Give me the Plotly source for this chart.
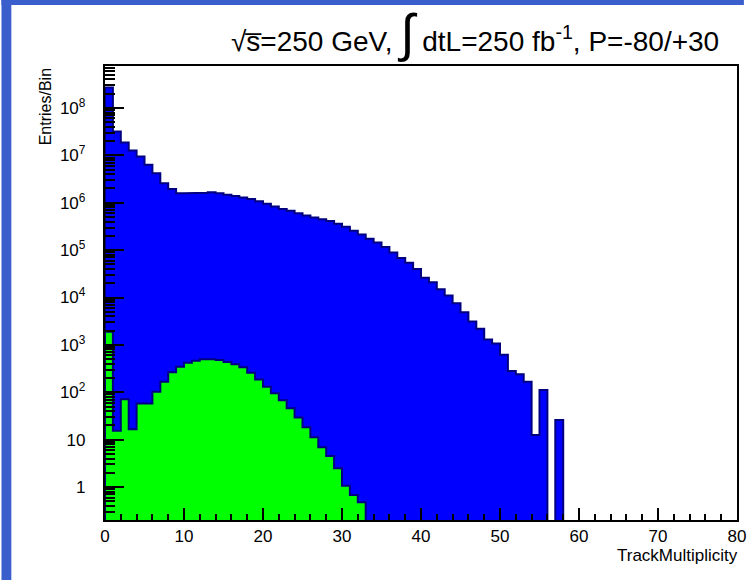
import plotly.graph_objects as go

# ---------------- data ----------------
n_bins = 80
x_min, x_max = 0, 80

blue_counts = [
    2.7e8, 3.2e7, 1.86e7, 1.26e7, 9.5e6, 6.3e6, 4.2e6, 2.57e6, 1.95e6, 1.58e6,
    1.58e6, 1.58e6, 1.62e6, 1.66e6, 1.58e6, 1.48e6, 1.38e6, 1.29e6, 1.20e6, 1.07e6,
    9.5e5, 8.3e5, 7.4e5, 6.8e5, 6.0e5, 5.4e5, 4.9e5, 4.5e5, 4.1e5, 3.6e5,
    3.1e5, 2.57e5, 2.14e5, 1.74e5, 1.45e5, 1.17e5, 8.9e4, 6.8e4, 5.4e4, 4.0e4,
    2.6e4, 2.1e4, 1.5e4, 1.1e4, 7.6e3, 4.9e3, 3.1e3, 2.2e3, 1.3e3, 1.07e3,
    620, 280, 240, 166, 12.6, 112, 0, 26, 0, 0,
    0, 0, 0, 0, 0, 0, 0, 0, 0, 0,
    0, 0, 0, 0, 0, 0, 0, 0, 0, 0,
]

green_counts = [
    1900, 15.4, 71, 16.5, 58, 58, 102, 166, 265, 346,
    420, 460, 500, 500, 478, 434, 392, 336, 258, 187,
    131, 95, 68, 46, 29.5, 18.2, 11.2, 6.9, 4.5, 2.5,
    1.06, 0.68, 0.48, 0, 0, 0, 0, 0, 0, 0,
    0, 0, 0, 0, 0, 0, 0, 0, 0, 0,
    0, 0, 0, 0, 0, 0, 0, 0, 0, 0,
    0, 0, 0, 0, 0, 0, 0, 0, 0, 0,
    0, 0, 0, 0, 0, 0, 0, 0, 0, 0,
]

x_tick_vals = [0, 10, 20, 30, 40, 50, 60, 70, 80]
x_tick_text = ["0", "10", "20", "30", "40", "50", "60", "70", "80"]
y_tick_vals = [1, 10, 1e2, 1e3, 1e4, 1e5, 1e6, 1e7, 1e8]
y_tick_text = ["1", "10", "10<sup>2</sup>", "10<sup>3</sup>", "10<sup>4</sup>",
               "10<sup>5</sup>", "10<sup>6</sup>", "10<sup>7</sup>", "10<sup>8</sup>"]

title_text = ("√s\u0305=250 GeV, <span style='font-size:52px'>∫</span> "
              "dtL=250 fb<sup>-1</sup>, P=-80/+30")
x_title = "TrackMultiplicity"
y_title = "Entries/Bin"

# ---------------- layout geometry ----------------
W, H = 753, 580
L, R, T, B = 105, 746, 66, 520  # plot area in pixels
y_log_range = [-0.696, 8.886]
FLOOR = 1e-3  # below visible axis range, for empty bins
LABEL_GAP = "\u00a0" * 3  # extra room between y labels and axis


def px_x(p):
    return (p - L) / (R - L)


def px_y(p):
    return (B - p) / (B - T)


def step_polygon(counts):
    width = (x_max - x_min) / n_bins
    xs, ys = [x_min], [FLOOR]
    for i, c in enumerate(counts):
        v = c if c > 0 else FLOOR
        xs += [x_min + i * width, x_min + (i + 1) * width]
        ys += [v, v]
    xs.append(x_max)
    ys.append(FLOOR)
    return xs, ys


OUTLINE = "#000080"
fig = go.Figure()
for counts, color in [(blue_counts, "#0000ff"), (green_counts, "#00ff00")]:
    xs, ys = step_polygon(counts)
    fig.add_trace(go.Scatter(x=xs, y=ys, mode="lines", fill="toself",
                             fillcolor=color, line=dict(color=OUTLINE, width=2),
                             hoverinfo="skip", showlegend=False))

font_family = "Liberation Sans, Arial, sans-serif"

fig.update_layout(
    width=W, height=H,
    margin=dict(l=L, r=W - R, t=T, b=H - B),
    paper_bgcolor="white", plot_bgcolor="white",
    font=dict(family=font_family, color="black", size=17),
    showlegend=False,
)
fig.update_xaxes(
    range=[x_min, x_max], showgrid=False, zeroline=False,
    showline=True, linecolor="black", linewidth=2, mirror=True,
    ticks="inside", ticklen=12, tickwidth=2, tickcolor="black",
    tickvals=x_tick_vals, ticktext=x_tick_text,
    tickfont=dict(size=17, family=font_family),
    ticklabeloverflow="allow",
    minor=dict(ticks="inside", ticklen=6, tickwidth=2, tickcolor="black", dtick=2),
)
fig.update_yaxes(
    type="log", range=y_log_range, showgrid=False, zeroline=False,
    showline=True, linecolor="black", linewidth=2, mirror=True,
    ticks="inside", ticklen=19, tickwidth=2, tickcolor="black",
    tickvals=y_tick_vals, ticktext=[t + LABEL_GAP for t in y_tick_text],
    tickfont=dict(size=17, family=font_family),
    minor=dict(ticks="inside", ticklen=10, tickwidth=2, tickcolor="black", dtick="D1"),
)

# canvas border strips
BORDER = "#3a5fcd"
for (x0, x1, y0, y1) in [(0, 10, 0, H), (0, W, 0, 5)]:
    fig.add_shape(type="rect", xref="paper", yref="paper",
                  x0=px_x(x0), x1=px_x(x1), y0=px_y(y0), y1=px_y(y1),
                  fillcolor=BORDER, line=dict(width=0), layer="above")

fig.add_annotation(text=title_text, xref="paper", yref="paper",
                   x=px_x(231), y=px_y(34), xanchor="left", yanchor="middle",
                   showarrow=False, font=dict(size=28, family=font_family))
fig.add_annotation(text=x_title, xref="paper", yref="paper",
                   x=px_x(749), y=px_y(544), xanchor="right", yanchor="top",
                   showarrow=False, font=dict(size=17, family=font_family))
fig.add_annotation(text=y_title, xref="paper", yref="paper", textangle=-90,
                   x=px_x(45), y=1, xanchor="center", yanchor="top",
                   showarrow=False, font=dict(size=16, family=font_family))

fig.write_html("out.html")
